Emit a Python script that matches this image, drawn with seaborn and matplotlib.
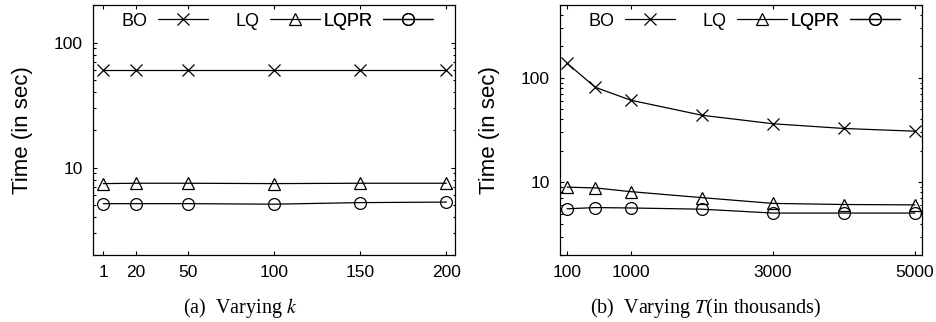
import matplotlib
matplotlib.use("Agg")
import matplotlib.pyplot as plt
import matplotlib.ticker as mticker
import seaborn as sns
import pandas as pd

# panel (a): varying k
k_values = [1, 20, 50, 100, 150, 200]
bo_k = [60.5, 60.5, 60.5, 60.5, 60.5, 60.5]
lq_k = [7.45, 7.5, 7.5, 7.45, 7.5, 7.5]
lqpr_k = [5.15, 5.15, 5.15, 5.1, 5.25, 5.3]

# panel (b): varying T (in thousands)
t_values = [100, 500, 1000, 2000, 3000, 4000, 5000]
bo_t = [138, 81, 61, 43.8, 36.3, 32.7, 30.8]
lq_t = [8.95, 8.8, 8.1, 7.1, 6.25, 6.1, 6.05]
lqpr_t = [5.55, 5.7, 5.65, 5.5, 5.05, 5.05, 5.05]

series_names = ["BO", "LQ", "LQPR"]
series_markers = {"BO": "x", "LQ": "^", "LQPR": "o"}
marker_sizes = {"BO": 9, "LQ": 8, "LQPR": 8.5}

sns.set_style("ticks")
plt.rcParams["font.family"] = ["Liberation Sans", "DejaVu Sans"]
plt.rcParams["mathtext.fontset"] = "stix"
# seaborn greys the text, the reference is plain black
for key in ["text.color", "axes.labelcolor", "xtick.color", "ytick.color"]:
    plt.rcParams[key] = "black"


def draw_panel(ax, x, ys, xlim, ylim, xticks):
    handles = []
    for name, y in zip(series_names, ys):
        df = pd.DataFrame({"x": x, "y": y})
        sns.lineplot(data=df, x="x", y="y", ax=ax, color="black", linewidth=0.9,
                     marker=series_markers[name], markersize=marker_sizes[name],
                     markerfacecolor="none", markeredgecolor="black", markeredgewidth=0.9)
        handles.append(ax.lines[-1])

    ax.set_yscale("log")
    ax.set_xlim(*xlim)
    ax.set_ylim(*ylim)
    ax.set_xticks(xticks)
    ax.set_xticklabels([str(t) for t in xticks])
    ax.xaxis.set_minor_locator(mticker.NullLocator())
    ax.yaxis.set_major_locator(mticker.FixedLocator([10, 100]))
    ax.yaxis.set_major_formatter(mticker.FixedFormatter(["10", "100"]))
    ax.yaxis.set_minor_locator(mticker.LogLocator(base=10, subs=range(2, 10)))
    ax.yaxis.set_minor_formatter(mticker.NullFormatter())
    ax.tick_params(which="both", direction="in", top=True, right=True, width=0.8)
    ax.tick_params(which="major", length=3.2, labelsize=12.5, pad=7.5)
    ax.tick_params(which="minor", length=1.8)
    for s in ax.spines.values():
        s.set_linewidth(0.9)
        s.set_color("black")
    ax.set_xlabel("")
    ax.set_ylabel("Time (in sec)", fontsize=16, labelpad=15)

    # gnuplot-like key: text right-aligned, sample to the right
    for h, name, xr in zip(handles, series_names, [0.318, 0.627, 0.939]):
        leg = ax.legend([h], [name], loc="center right", bbox_to_anchor=(xr, 0.935),
                        frameon=False, markerfirst=False, handlelength=2.75,
                        handletextpad=0.6, borderaxespad=0, borderpad=0, fontsize=13)
        ax.add_artist(leg)


fig = plt.figure(figsize=(9.37, 3.22), dpi=100)
ax1 = fig.add_axes([93 / 937, 67 / 322, 362 / 937, 250 / 322])
ax2 = fig.add_axes([560 / 937, 67 / 322, 362 / 937, 250 / 322])

draw_panel(ax1, k_values, [bo_k, lq_k, lqpr_k], (-5, 205), (2, 200), k_values)
draw_panel(ax2, t_values, [bo_t, lq_t, lqpr_t], (0, 5100), (2, 500), [100, 1000, 3000, 5000])

fig.text(240 / 937, 14 / 322, "(a)  Varying $k$", ha="center", va="center",
         fontsize=14.5, family=["Liberation Serif", "DejaVu Serif"])
fig.text(706 / 937, 14 / 322, "(b)  Varying $T$(in thousands)", ha="center", va="center",
         fontsize=14.5, family=["Liberation Serif", "DejaVu Serif"])

fig.savefig("out.png", dpi=100)
